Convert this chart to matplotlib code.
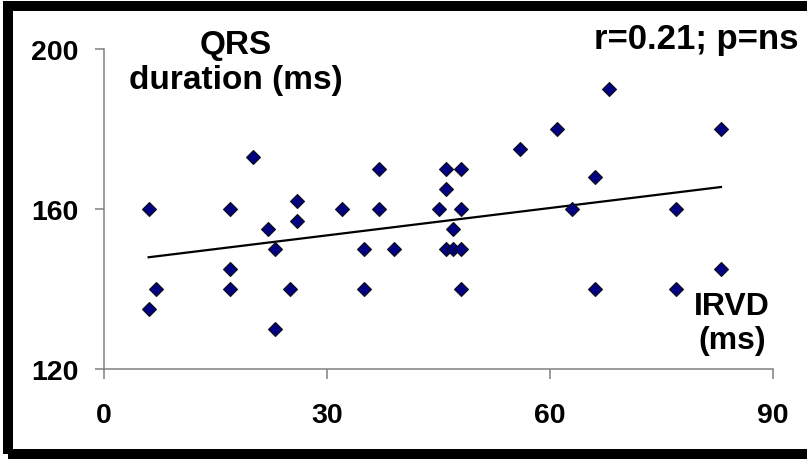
import matplotlib.pyplot as plt
from matplotlib.patches import Rectangle
import numpy as np

plt.rcParams['font.family'] = ['Liberation Sans', 'DejaVu Sans']
plt.rcParams['font.weight'] = 'bold'

# IRVD (ms) vs QRS duration (ms)
irvd = [6, 6, 7, 17, 17, 17, 20, 22, 23, 23, 25, 26, 26, 32, 35, 35, 37, 37, 39,
        45, 46, 46, 46, 47, 47, 48, 48, 48, 48, 56, 61, 63, 66, 66, 68, 77, 77, 83, 83]
qrs = [160, 135, 140, 160, 145, 140, 173, 155, 150, 130, 140, 162, 157, 160, 150, 140, 170, 160, 150,
       160, 170, 165, 150, 155, 150, 170, 160, 150, 140, 175, 180, 160, 168, 140, 190, 160, 140, 180, 145]

x_ticks = [0, 30, 60, 90]
y_ticks = [120, 160, 200]

fig = plt.figure(figsize=(8.07, 4.60), dpi=100)
ax = fig.add_axes([0.1289, 0.1957, 0.829, 0.6957])

# trend line
k, b = np.polyfit(irvd, qrs, 1)
xl = np.array([min(irvd), max(irvd)])
ax.plot(xl, k * xl + b, color='black', lw=1.6, zorder=2)

ax.plot(irvd, qrs, linestyle='none', marker='D', markersize=6.8,
        markerfacecolor='#000080', markeredgecolor='#111111', markeredgewidth=0.8,
        zorder=3, clip_on=False)

ax.set_xlim(0, 90)
ax.set_ylim(120, 200)
ax.set_xticks(x_ticks)
ax.set_yticks(y_ticks)
for s in ['top', 'right']:
    ax.spines[s].set_visible(False)
for s in ['left', 'bottom']:
    ax.spines[s].set_color('#808080')
    ax.spines[s].set_linewidth(1.1)
ax.tick_params(axis='y', direction='out', length=6.5, width=1.1, color='#808080',
               pad=12, labelsize=20.5)
ax.tick_params(axis='x', direction='out', length=7, width=1.1, color='#808080',
               pad=17, labelsize=20.5)
for lab in ax.get_xticklabels() + ax.get_yticklabels():
    lab.set_fontweight('bold')

# texts
fig.text(0.2924, 0.863, 'QRS\nduration (ms)', ha='center', va='center',
         fontsize=24, fontweight='bold', linespacing=1.15)
fig.text(0.989, 0.8935, 'r=0.21; p=ns', ha='right', va='baseline',
         fontsize=25, fontweight='bold')
fig.text(0.907, 0.296, 'IRVD\n(ms)', ha='center', va='center',
         fontsize=23, fontweight='bold', linespacing=1.15)

# thick black frame
fig.patches.append(Rectangle((0.0099, 0.0109), 0.9926, 0.9728, transform=fig.transFigure,
                             fill=False, edgecolor='black', linewidth=7.2))

fig.savefig('out.png', dpi=100)
